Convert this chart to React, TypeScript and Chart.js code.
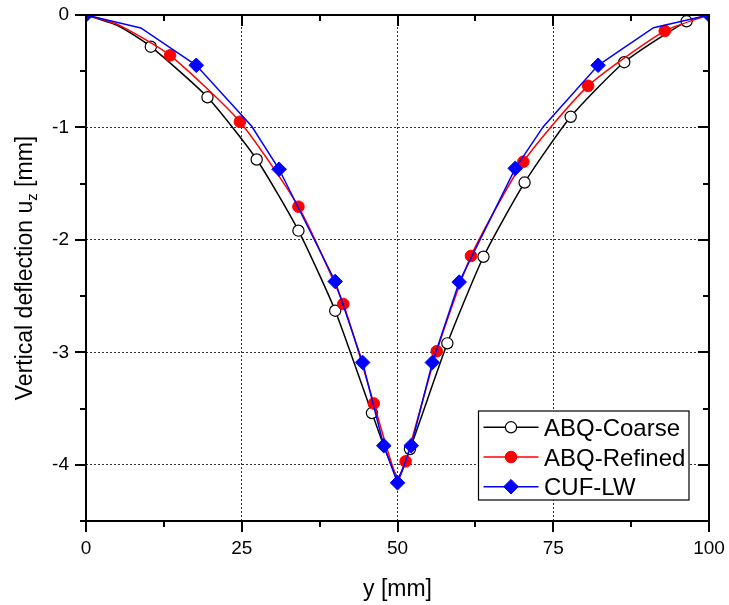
import React, { useEffect, useRef } from 'react';
import { Chart, registerables } from 'chart.js';

Chart.register(...registerables);

// ---- Data ----
const coarseX = [0, 5.3, 10.4, 19.5, 27.4, 34.1, 40.0, 45.9, 50.0, 52.0, 58.0, 63.8, 70.4, 77.8, 86.4, 96.4, 100];
const coarseY = [0, -0.10, -0.282, -0.732, -1.285, -1.918, -2.63, -3.54, -4.11, -3.86, -2.92, -2.15, -1.49, -0.905, -0.42, -0.056, 0];
const coarseMarks = [0, 0, 1, 1, 1, 1, 1, 1, 0, 1, 1, 1, 1, 1, 1, 1, 0];

const refinedX = [0, 5.3, 13.5, 24.7, 34.1, 41.3, 46.2, 50.0, 51.3, 56.3, 61.8, 70.2, 80.6, 92.9, 100];
const refinedY = [0, -0.09, -0.359, -0.949, -1.705, -2.57, -3.455, -4.13, -3.97, -2.99, -2.143, -1.305, -0.63, -0.142, 0];
const refinedMarks = [0, 0, 1, 1, 1, 1, 1, 0, 1, 1, 1, 1, 1, 1, 0];

const cufX = [0, 8.8, 17.7, 26.6, 31.0, 40.0, 44.4, 47.8, 50.0, 52.2, 55.6, 59.9, 68.9, 73.4, 82.2, 91.1, 100];
const cufY = [0, -0.115, -0.447, -0.99, -1.372, -2.37, -3.09, -3.83, -4.16, -3.83, -3.09, -2.375, -1.364, -0.993, -0.447, -0.113, 0];
const cufMarks = [1, 0, 1, 0, 1, 1, 1, 1, 1, 1, 1, 1, 1, 0, 1, 0, 1];

const seriesLabels = ['ABQ-Coarse', 'ABQ-Refined', 'CUF-LW'];

const xMajorTicks = [0, 25, 50, 75, 100];
const xMinorTicks = [12.5, 37.5, 62.5, 87.5];
const yMajorTicks = [0, -1, -2, -3, -4];
const yMinorTicks = [-0.5, -1.5, -2.5, -3.5, -4.5];

const xTitle = 'y [mm]';
const yTitleMain = 'Vertical deflection u';
const yTitleSub = 'z';
const yTitleEnd = ' [mm]';

const FONT = '"Liberation Sans", Arial, Helvetica, sans-serif';

const toPoints = (xs: number[], ys: number[]) => xs.map((x, i) => ({ x, y: ys[i] }));

const zeroPad = (s: any) => {
  s.paddingLeft = 0;
  s.paddingRight = 0;
  s.paddingTop = 0;
  s.paddingBottom = 0;
};

const framePlugin = {
  id: 'originFrame',
  afterDatasetsDraw(chart: any) {
    const { ctx, chartArea } = chart;
    const { left, right, top, bottom } = chartArea;
    const xs = chart.scales.x;
    const ys = chart.scales.y;
    ctx.save();
    ctx.strokeStyle = '#000';
    ctx.lineWidth = 2;
    ctx.lineCap = 'butt';
    ctx.strokeRect(left, top, right - left, bottom - top);
    const MAJ = 11;
    const MIN = 6;
    const drawX = (v: number, len: number) => {
      const p = Math.round(xs.getPixelForValue(v));
      ctx.beginPath();
      ctx.moveTo(p, bottom);
      ctx.lineTo(p, bottom + len);
      ctx.moveTo(p, top);
      ctx.lineTo(p, top + len);
      ctx.stroke();
    };
    const drawY = (v: number, len: number) => {
      const p = Math.round(ys.getPixelForValue(v));
      ctx.beginPath();
      ctx.moveTo(left, p);
      ctx.lineTo(left - len, p);
      ctx.moveTo(right, p);
      ctx.lineTo(right - len, p);
      ctx.stroke();
    };
    xMajorTicks.forEach((v) => drawX(v, MAJ));
    xMinorTicks.forEach((v) => drawX(v, MIN));
    yMajorTicks.forEach((v) => drawY(v, MAJ));
    yMinorTicks.forEach((v) => drawY(v, MIN));

    // axis titles
    ctx.fillStyle = '#000';
    ctx.font = `23px ${FONT}`;
    ctx.textAlign = 'center';
    ctx.textBaseline = 'alphabetic';
    ctx.fillText(xTitle, (left + right) / 2, 596);

    const cy = (top + bottom) / 2;
    ctx.translate(32, cy);
    ctx.rotate(-Math.PI / 2);
    ctx.textAlign = 'left';
    ctx.font = `23px ${FONT}`;
    const w1 = ctx.measureText(yTitleMain).width;
    const w3 = ctx.measureText(yTitleEnd).width;
    ctx.font = `15px ${FONT}`;
    const w2 = ctx.measureText(yTitleSub).width;
    const total = w1 + w2 + w3;
    let sx = -total / 2;
    ctx.font = `23px ${FONT}`;
    ctx.fillText(yTitleMain, sx, 0);
    sx += w1;
    ctx.font = `15px ${FONT}`;
    ctx.fillText(yTitleSub, sx, 5);
    sx += w2;
    ctx.font = `23px ${FONT}`;
    ctx.fillText(yTitleEnd, sx, 0);
    ctx.restore();

    // legend
    ctx.save();
    const bx = 478.5, by = 411, bw = 210.5, bh = 89;
    ctx.fillStyle = '#fff';
    ctx.fillRect(bx, by, bw, bh);
    ctx.strokeStyle = '#000';
    ctx.lineWidth = 1.2;
    ctx.strokeRect(bx, by, bw, bh);
    const rows = [427.3, 457, 486.7];
    const colors = ['#000000', '#ff0000', '#0000ff'];
    rows.forEach((ry, i) => {
      ctx.strokeStyle = colors[i];
      ctx.lineWidth = 1.5;
      ctx.beginPath();
      ctx.moveTo(483.5, ry);
      ctx.lineTo(538.5, ry);
      ctx.stroke();
      const mx = 511;
      ctx.beginPath();
      if (i === 0) {
        ctx.arc(mx, ry, 5.6, 0, Math.PI * 2);
        ctx.fillStyle = '#fff';
        ctx.fill();
        ctx.lineWidth = 1.2;
        ctx.strokeStyle = '#000';
        ctx.stroke();
      } else if (i === 1) {
        ctx.arc(mx, ry, 5.8, 0, Math.PI * 2);
        ctx.fillStyle = '#ff0000';
        ctx.fill();
        ctx.lineWidth = 1;
        ctx.stroke();
      } else {
        const r = 7.3;
        ctx.moveTo(mx - r, ry);
        ctx.lineTo(mx, ry - r);
        ctx.lineTo(mx + r, ry);
        ctx.lineTo(mx, ry + r);
        ctx.closePath();
        ctx.fillStyle = '#0000ff';
        ctx.fill();
        ctx.lineWidth = 1;
        ctx.stroke();
      }
      ctx.fillStyle = '#000';
      ctx.font = `24px ${FONT}`;
      ctx.textAlign = 'left';
      ctx.textBaseline = 'alphabetic';
      ctx.fillText(seriesLabels[i], 544, ry + 8.6);
    });
    ctx.restore();
  },
};

export default function App() {
  const ref = useRef<HTMLCanvasElement>(null);
  useEffect(() => {
    const canvas = ref.current;
    if (!canvas) return;
    const markRadius = (marks: number[], r: number) => (c: any) => (marks[c.dataIndex] ? r : 0);
    const chart = new Chart(canvas, {
      type: 'line',
      data: {
        datasets: [
          {
            label: seriesLabels[2],
            data: toPoints(cufX, cufY),
            borderColor: '#0000ff',
            backgroundColor: '#0000ff',
            borderWidth: 1.5,
            tension: 0,
            pointStyle: 'rectRot',
            pointRadius: markRadius(cufMarks, 7.3),
            pointBackgroundColor: '#0000ff',
            pointBorderColor: '#0000ff',
            pointBorderWidth: 1,
            order: 1,
          },
          {
            label: seriesLabels[1],
            data: toPoints(refinedX, refinedY),
            borderColor: '#ff0000',
            backgroundColor: '#ff0000',
            borderWidth: 1.5,
            tension: 0.2,
            pointStyle: 'circle',
            pointRadius: markRadius(refinedMarks, 5.8),
            pointBackgroundColor: '#ff0000',
            pointBorderColor: '#ff0000',
            pointBorderWidth: 1,
            order: 2,
          },
          {
            label: seriesLabels[0],
            data: toPoints(coarseX, coarseY),
            borderColor: '#000000',
            backgroundColor: '#ffffff',
            borderWidth: 1.5,
            tension: 0.2,
            pointStyle: 'circle',
            pointRadius: markRadius(coarseMarks, 5.6),
            pointBackgroundColor: '#ffffff',
            pointBorderColor: '#000000',
            pointBorderWidth: 1.2,
            order: 3,
          },
        ],
      },
      options: {
        animation: false,
        responsive: false,
        devicePixelRatio: 1,
        events: [],
        layout: { padding: { left: 0, right: 20, top: 15, bottom: 0 } },
        plugins: { legend: { display: false }, tooltip: { enabled: false } },
        scales: {
          x: {
            type: 'linear',
            min: 0,
            max: 100,
            afterFit: (s: any) => {
              s.height = 84;
              zeroPad(s);
            },
            afterBuildTicks: (s: any) => {
              s.ticks = xMajorTicks.map((value) => ({ value }));
            },
            grid: {
              drawTicks: false,
              lineWidth: 1,
              color: (c: any) => {
                const v = c.tick ? c.tick.value : 0;
                return v > 0 && v < 100 ? '#333333' : 'rgba(0,0,0,0)';
              },
            },
            border: { display: false, dash: [2, 2] },
            ticks: {
              padding: 16,
              color: '#000',
              font: { family: FONT, size: 19 },
              maxRotation: 0,
              autoSkip: false,
              callback: (v: any) => String(v),
            },
          },
          y: {
            type: 'linear',
            min: -4.5,
            max: 0,
            afterFit: (s: any) => {
              s.width = 86;
              zeroPad(s);
            },
            afterBuildTicks: (s: any) => {
              s.ticks = yMajorTicks.map((value) => ({ value }));
            },
            grid: {
              drawTicks: false,
              lineWidth: 1,
              color: (c: any) => {
                const v = c.tick ? c.tick.value : 0;
                return v < 0 && v > -4.5 ? '#333333' : 'rgba(0,0,0,0)';
              },
            },
            border: { display: false, dash: [2, 2] },
            ticks: {
              padding: 17,
              color: '#000',
              font: { family: FONT, size: 19 },
              autoSkip: false,
              callback: (v: any) => String(v),
            },
          },
        },
      },
      plugins: [framePlugin],
    });
    return () => chart.destroy();
  }, []);
  return (
    <div style={{ position: 'fixed', left: 0, top: 0, width: 729, height: 605, background: '#fff' }}>
      <canvas ref={ref} width={729} height={605} style={{ display: 'block' }} />
    </div>
  );
}
